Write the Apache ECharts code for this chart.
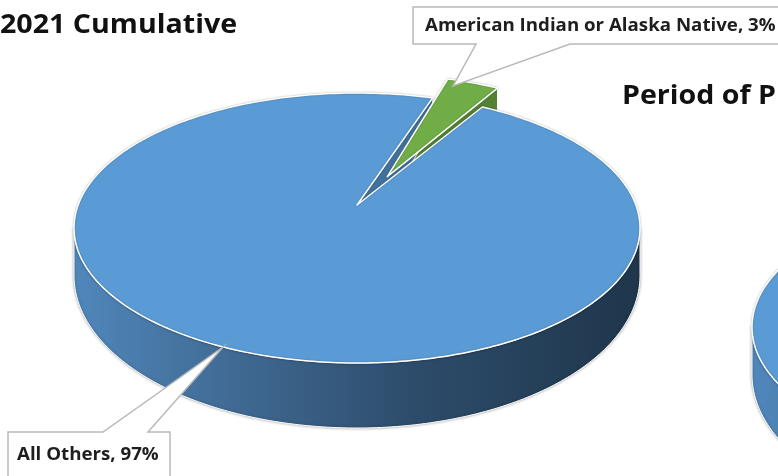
<!DOCTYPE html>
<html><head><meta charset="utf-8">
<script src="https://cdn.jsdelivr.net/npm/echarts/dist/echarts.min.js"></script>
<style>html,body{margin:0;padding:0;background:#fff;overflow:hidden}#c{width:778px;height:476px}</style>
</head><body><div id="c"></div>
<script>
// ---- data ----
const categories = ['American Indian or Alaska Native', 'All Others'];
const values = [3, 97];
const chartTitle = '2021 Cumulative';
// second (cropped) chart at the right edge
const categories2 = ['American Indian or Alaska Native', 'All Others'];
const values2 = [3, 97];
const chartTitle2 = 'Period of P';

// ---- layout / style ----
const FONT = '"Open Sans", "Noto Sans", sans-serif';
const geo1 = { cx: 357, cy: 228, rx: 283, ry: 135, apexY: 205, dBack: 30, dFront: 65, start: 15.5, explode: [0.15, 0] };
const geo2 = { cx: 1035, cy: 327, rx: 283, ry: 135, apexY: 304, dBack: 30, dFront: 65, start: 15.5, explode: [0.15, 0] };
const topColors = ['#70AD47', '#5B9BD5'];
const endColors = ['#548235', '#41719C'];
const labels1 = [
  { box: [413, 7, 800, 44], side: 'bottom', base: [476, 570], tip: [453, 86], text: [425, 26] },
  { box: [8, 432, 170, 500], side: 'top', base: [103, 148], tip: [223, 347], text: [17, 455] }
];
const LABEL_STRETCH = 1.1;
const TITLE_STRETCH = 1.04;

function blueSide(g) {
  return { type: 'linear', x: g.cx - g.rx, y: 0, x2: g.cx + g.rx, y2: 0, global: true,
    colorStops: [{ offset: 0, color: '#5087bb' }, { offset: 0.3, color: '#3f6891' },
      { offset: 0.6, color: '#2d4c6b' }, { offset: 1, color: '#1f364b' }] };
}

function makePie(cats, vals, g, labels) {
  const total = vals.reduce((a, b) => a + b, 0);
  const spans = []; let cum = 0;
  vals.forEach(v => { const a = g.start + cum / total * 360; cum += v; spans.push([a, g.start + cum / total * 360]); });
  const R = Math.PI / 180;
  const depth = t => (g.dBack + g.dFront) / 2 - (g.dFront - g.dBack) / 2 * Math.cos(t * R);
  const rim = (t, o) => [g.cx + g.rx * Math.sin(t * R) + o[0], g.cy - g.ry * Math.cos(t * R) + o[1]];
  const arc = (a, b, o, withDepth) => {
    const n = Math.max(2, Math.ceil(Math.abs(b - a) / 1));
    const pts = [];
    for (let k = 0; k <= n; k++) {
      const t = a + (b - a) * k / n; const p = rim(t, o);
      if (withDepth) p[1] += depth(t);
      pts.push(p);
    }
    return pts;
  };
  return {
    type: 'custom', coordinateSystem: 'none', silent: true, animation: false,
    data: vals.map((v, i) => ({ name: cats[i], value: [i, v] })),
    renderItem: function (params, api) {
      const i = params.dataIndex;
      const v = api.value(1);
      const [ta, tb] = spans[i];
      const e = g.explode[i] || 0;
      const mid = (ta + tb) / 2;
      const sm = Math.sin(mid * R), cm = Math.cos(mid * R);
      const ro = [e * sm * g.rx, -e * cm * g.ry];
      const ao = [2 * e * sm * g.rx, -1.5 * e * cm * g.ry];
      const apex = [g.cx + ao[0], g.apexY + ao[1]];
      const children = [];
      // outer side (front half only)
      for (let k = 0; k < 2; k++) {
        const lo = Math.max(ta, 90 + 360 * k), hi = Math.min(tb, 270 + 360 * k);
        if (hi > lo) {
          const pts = arc(lo, hi, ro, false).concat(arc(hi, lo, ro, true));
          children.push({ type: 'polygon', z2: 1, shape: { points: pts },
            style: { fill: i === 1 ? blueSide(g) : '#507e32', stroke: '#ffffff', lineWidth: 1,
              shadowBlur: 3, shadowColor: 'rgba(0,0,0,0.35)' } });
        }
      }
      // radial faces that face the viewer
      const dA = (g.dBack + g.dFront) / 2;
      [[tb, Math.sin(tb * R) > 0], [ta, Math.sin(ta * R) < 0]].forEach(([t, vis]) => {
        if (!vis) return;
        const p = rim(t, ro);
        children.push({ type: 'polygon', z2: 2 + i, shape: { points: [apex, p, [p[0], p[1] + depth(t)], [apex[0], apex[1] + dA]] },
          style: { fill: endColors[i], stroke: '#ffffff', lineWidth: 1 } });
      });
      // top face
      children.push({ type: 'polygon', z2: 6, shape: { points: [apex].concat(arc(ta, tb, ro, false)) },
        style: { fill: topColors[i], stroke: '#ffffff', lineWidth: 1.5, lineJoin: 'round',
          shadowBlur: 2, shadowColor: 'rgba(0,0,0,0.25)' } });
      // callout label
      if (labels && labels[i]) {
        const L = labels[i]; const [x0, y0, x1, y1] = L.box;
        let pts;
        if (L.side === 'bottom') pts = [[x0, y0], [x1, y0], [x1, y1], [L.base[1], y1], L.tip, [L.base[0], y1], [x0, y1]];
        else pts = [[x0, y0], [L.base[0], y0], L.tip, [L.base[1], y0], [x1, y0], [x1, y1], [x0, y1]];
        children.push({ type: 'polygon', z2: 10, shape: { points: pts },
          style: { fill: '#ffffff', stroke: '#b9b9b9', lineWidth: 1.5 } });
        const pct = Math.round(v / total * 100);
        children.push({ type: 'text', z2: 11, x: L.text[0], y: L.text[1], scaleX: LABEL_STRETCH,
          style: { text: cats[i] + ', ' + pct + '%', fill: '#1e1e1e', font: 'bold 17px ' + FONT,
            verticalAlign: 'middle', align: 'left' } });
      }
      return { type: 'group', children };
    }
  };
}

const chart = echarts.init(document.getElementById('c'), null, { renderer: 'canvas' });
chart.setOption({
  backgroundColor: '#ffffff',
  animation: false,
  graphic: [
    { type: 'text', x: 0, y: 11, scaleX: TITLE_STRETCH, z: 100,
      style: { text: chartTitle, fill: '#111', font: 'bold 27.5px ' + FONT, verticalAlign: 'top' } },
    { type: 'text', x: 622, y: 82, scaleX: TITLE_STRETCH, z: 100,
      style: { text: chartTitle2, fill: '#111', font: 'bold 27.5px ' + FONT, verticalAlign: 'top' } }
  ],
  series: [
    makePie(categories2, values2, geo2, null),
    makePie(categories, values, geo1, labels1)
  ]
});
</script>
</body></html>
